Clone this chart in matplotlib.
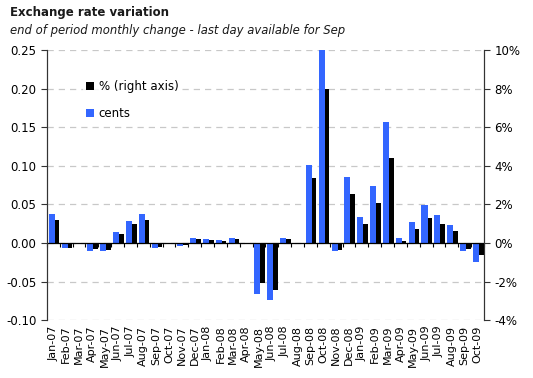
import numpy as np
import matplotlib.pyplot as plt
from matplotlib.patches import Patch
from matplotlib.ticker import FuncFormatter

months = ['Jan-07', 'Feb-07', 'Mar-07', 'Apr-07', 'May-07', 'Jun-07', 'Jul-07', 'Aug-07',
          'Sep-07', 'Oct-07', 'Nov-07', 'Dec-07', 'Jan-08', 'Feb-08', 'Mar-08', 'Apr-08',
          'May-08', 'Jun-08', 'Jul-08', 'Aug-08', 'Sep-08', 'Oct-08', 'Nov-08', 'Dec-08',
          'Jan-09', 'Feb-09', 'Mar-09', 'Apr-09', 'May-09', 'Jun-09', 'Jul-09', 'Aug-09',
          'Sep-09', 'Oct-09']
# change in cents (left axis)
cents = [0.038, -0.006, 0.0, -0.011, -0.011, 0.014, 0.029, 0.038,
         -0.006, -0.002, -0.004, 0.006, 0.005, 0.004, 0.006, -0.001,
         -0.066, -0.074, 0.006, -0.002, 0.101, 0.250, -0.011, 0.085,
         0.033, 0.074, 0.156, 0.006, 0.027, 0.049, 0.036, 0.023,
         -0.011, -0.025]
# percent change (right axis)
pct = [1.2, -0.25, 0.0, -0.33, -0.35, 0.45, 0.98, 1.17,
       -0.2, -0.05, -0.1, 0.19, 0.16, 0.1, 0.2, -0.03,
       -2.1, -2.42, 0.2, 0.0, 3.35, 7.95, -0.35, 2.52,
       0.98, 2.08, 4.38, 0.12, 0.72, 1.27, 0.98, 0.61,
       -0.29, -0.64]

blue = '#3366ff'
x = np.arange(len(months))

fig = plt.figure(figsize=(5.33, 3.78), dpi=100)
ax = fig.add_axes([0.088, 0.153, 0.82, 0.715])
ax2 = ax.twinx()

ax.bar(x - 0.36, cents, width=0.47, align='edge', color=blue, zorder=3)
ax2.bar(x + 0.11, pct, width=0.36, align='edge', color='black', zorder=3)

ax.set_xlim(-0.5, len(months) - 0.5)
ax.set_ylim(-0.10, 0.25)
ax2.set_ylim(-4, 10)
ax.set_yticks(np.arange(-0.10, 0.251, 0.05))
ax.yaxis.set_major_formatter(FuncFormatter(lambda v, p: f'{v:.2f}'))
ax2.set_yticks(np.arange(-4, 11, 2))
ax2.yaxis.set_major_formatter(FuncFormatter(lambda v, p: f'{v:.0f}%'))

ax.grid(axis='y', color='#c8c8c8', linestyle=(0, (5, 4)), linewidth=0.9, zorder=0)
ax.set_axisbelow(True)
ax.axhline(0, color='black', linewidth=0.9, zorder=4)

# month labels at the bottom, tick marks on the zero line
ax.set_xticks(x)
ax.set_xticklabels(months, rotation=90, fontsize=8)
ax.tick_params(axis='x', length=0, pad=4)
sec = ax.secondary_xaxis(0.10 / 0.35)
sec.set_xticks(np.arange(-0.5, len(months), 1.0))
sec.set_xticklabels([])
sec.tick_params(axis='x', length=3, width=0.8, color='black')
sec.spines['bottom'].set_visible(False)

for a in (ax, ax2):
    a.spines['top'].set_visible(False)
    a.spines['bottom'].set_visible(False)
    a.spines['left'].set_color('#333333')
    a.spines['right'].set_color('#333333')
ax.tick_params(axis='y', labelsize=8.5, length=4, color='#333333')
ax2.tick_params(axis='y', labelsize=8.5, length=4, color='#333333')

handles = [Patch(facecolor='black'), Patch(facecolor=blue)]
leg = ax2.legend(handles, ['% (right axis)', 'cents'], loc='upper left',
                 bbox_to_anchor=(0.07, 0.918), frameon=True, fontsize=8.5,
                 handlelength=0.7, handleheight=0.7, handletextpad=0.4,
                 labelspacing=1.15, borderpad=0.2)
leg.get_frame().set_edgecolor('none')
leg.get_frame().set_facecolor('white')
leg.set_zorder(10)

fig.text(0.018, 0.967, 'Exchange rate variation', fontsize=8.5, fontweight='bold',
         va='center', color='#1a1a1a')
fig.text(0.018, 0.92, 'end of period monthly change - last day available for Sep',
         fontsize=8.4, style='italic', va='center', color='#1a1a1a')

fig.savefig('out.png', dpi=100)
